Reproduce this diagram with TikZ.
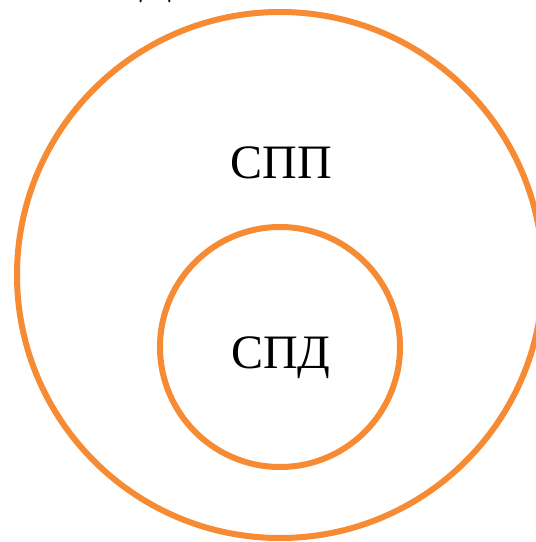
\documentclass[tikz,border=0pt]{standalone}
\usepackage{fontspec}
\setmainfont{Liberation Serif}
\definecolor{orange1}{HTML}{F68B33}
\usetikzlibrary{positioning}

\begin{document}
\begin{tikzpicture}[
  x=0.75pt, y=-0.75pt,
  ring/.style = {draw=orange1, circle, line width=4.5pt,
                 minimum size=#1, inner sep=0pt},
  lbl/.style  = {font=\fontsize{36}{40}\selectfont, text=black,
                 inner sep=0pt, anchor=base}
]
\useasboundingbox (0,0) rectangle (535,542);

% rings
\node[ring=394.5pt] (outer) at (280,275) {};
\node[ring=180pt]   (inner) at (280,347) {};

% labels
\node[lbl] (spp) at (281,178) {СПП};
\node[lbl] (spd) at (281,368) {СПД};
\node[lbl, anchor=base east] (cut) at (173,-7) {СПД};

\end{tikzpicture}
\end{document}
